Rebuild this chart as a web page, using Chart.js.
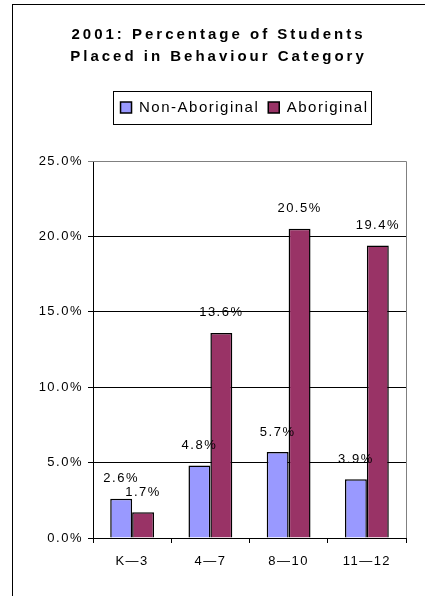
<!DOCTYPE html>
<html>
<head>
<meta charset="utf-8">
<script src="https://cdn.jsdelivr.net/npm/chart.js@4/dist/chart.umd.min.js"></script>
<style>
  body { margin: 0; background: #fff; }
  #frame {
    position: absolute; left: 12px; top: 4px;
    width: 440px; height: 620px;
    border-left: 1px solid #000; border-top: 1px solid #000;
  }
  #chart { display: block; }
</style>
</head>
<body>
<div id="frame"><canvas id="chart" width="412" height="591"></canvas></div>
<script>
// data
const titleLines = ['2001: Percentage of Students', 'Placed in Behaviour Category'];
const gradeGroups = ['K\u20143', '4\u20147', '8\u201410', '11\u201412'];
const nonAboriginal = [2.6, 4.8, 5.7, 3.9];
const aboriginal = [1.7, 13.6, 20.5, 19.4];
const yTickValues = [0, 5, 10, 15, 20, 25];

Chart.defaults.font.family = "'Liberation Sans', Arial, sans-serif";
Chart.defaults.color = '#000';

// Excel-style spaced out text
const spacing = {
  id: 'spacing',
  afterInit(chart) {
    const t = chart.titleBlock;
    const draw = t.draw.bind(t);
    t.draw = function (area) {
      chart.ctx.save();
      chart.ctx.letterSpacing = '3px';
      draw(area);
      chart.ctx.restore();
    };
  },
  beforeUpdate(chart) { chart.ctx.letterSpacing = '1.5px'; },
  beforeDraw(chart) { chart.ctx.letterSpacing = '1.5px'; },
  afterLayout(chart) {
    // title and legend are not centred on the plot in the original
    chart.titleBlock.left += 9;
    chart.titleBlock.right += 9;
    chart.legend.left += 35;
    chart.legend.right += 35;
  }
};

// gray top/right edge of the plot area
const plotFrame = {
  id: 'plotFrame',
  beforeDatasetsDraw(chart) {
    const { ctx, chartArea: a } = chart;
    ctx.save();
    ctx.strokeStyle = '#808080';
    ctx.lineWidth = 1;
    ctx.beginPath();
    ctx.moveTo(a.left, Math.round(a.top) + 0.5);
    ctx.lineTo(Math.round(a.right) + 0.5, Math.round(a.top) + 0.5);
    ctx.lineTo(Math.round(a.right) + 0.5, a.bottom);
    ctx.stroke();
    ctx.restore();
  }
};

// value labels above every bar
const barLabels = {
  id: 'barLabels',
  afterDatasetsDraw(chart) {
    const ctx = chart.ctx;
    ctx.save();
    ctx.font = "13px 'Liberation Sans', Arial, sans-serif";
    ctx.fillStyle = '#000';
    ctx.textAlign = 'center';
    ctx.textBaseline = 'middle';
    chart.data.datasets.forEach((ds, i) => {
      chart.getDatasetMeta(i).data.forEach((bar, j) => {
        ctx.fillText(ds.data[j].toFixed(1) + '%', bar.x, bar.y - 20);
      });
    });
    ctx.restore();
  }
};

// box round the legend
const legendBox = {
  id: 'legendBox',
  afterDraw(chart) {
    const lg = chart.legend;
    const boxes = lg.legendHitBoxes;
    if (!boxes || !boxes.length) return;
    const last = boxes[boxes.length - 1];
    const x1 = Math.round(boxes[0].left - 8) + 0.5;
    const x2 = Math.round(last.left + last.width + 3) + 0.5;
    const ctx = chart.ctx;
    ctx.save();
    ctx.strokeStyle = '#000';
    ctx.lineWidth = 1;
    ctx.strokeRect(x1, Math.round(lg.top) + 0.5, x2 - x1, Math.round(lg.height) - 1);
    ctx.restore();
  }
};

new Chart(document.getElementById('chart'), {
  type: 'bar',
  data: {
    labels: gradeGroups,
    datasets: [
      {
        label: 'Non-Aboriginal',
        data: nonAboriginal,
        backgroundColor: '#9999FF',
        borderColor: '#000',
        borderWidth: 1.5
      },
      {
        label: 'Aboriginal',
        data: aboriginal,
        backgroundColor: '#993366',
        borderColor: '#000',
        borderWidth: 1.5
      }
    ]
  },
  options: {
    responsive: false,
    animation: false,
    categoryPercentage: 0.56,
    barPercentage: 1,
    layout: { padding: { left: 0, right: 19, top: 0, bottom: 0 } },
    plugins: {
      tooltip: { enabled: false },
      title: {
        display: true,
        text: titleLines,
        color: '#000',
        font: { size: 15, weight: 'bold', lineHeight: '22px' },
        padding: { top: 19, bottom: 23 }
      },
      legend: {
        display: true,
        labels: {
          color: '#000',
          font: { size: 15 },
          boxWidth: 11,
          boxHeight: 11,
          padding: 9
        }
      }
    },
    scales: {
      x: {
        grid: {
          offset: true,
          drawOnChartArea: false,
          drawTicks: true,
          tickLength: 5,
          color: '#000'
        },
        border: { color: '#000', width: 1 },
        ticks: { font: { size: 13 }, padding: 11, color: '#000' },
        afterFit(scale) { scale.height = 58; }
      },
      // empty axis that only keeps the gap under the legend
      spacer: {
        type: 'category',
        position: 'top',
        labels: gradeGroups,
        grid: { display: false },
        border: { display: false },
        ticks: { display: false },
        afterFit(scale) { scale.height = 36; }
      },
      y: {
        min: yTickValues[0],
        max: yTickValues[yTickValues.length - 1],
        ticks: {
          stepSize: yTickValues[1] - yTickValues[0],
          font: { size: 13 },
          padding: 5,
          color: '#000',
          callback: v => v.toFixed(1) + '%'
        },
        grid: {
          color: c => (c.tick && c.tick.value === yTickValues[yTickValues.length - 1]) ? '#808080' : '#000',
          tickLength: 5,
          lineWidth: 1
        },
        border: { color: '#000', width: 1 },
        afterFit(scale) { scale.width = 80; }
      }
    }
  },
  plugins: [spacing, plotFrame, barLabels, legendBox]
});
</script>
</body>
</html>
